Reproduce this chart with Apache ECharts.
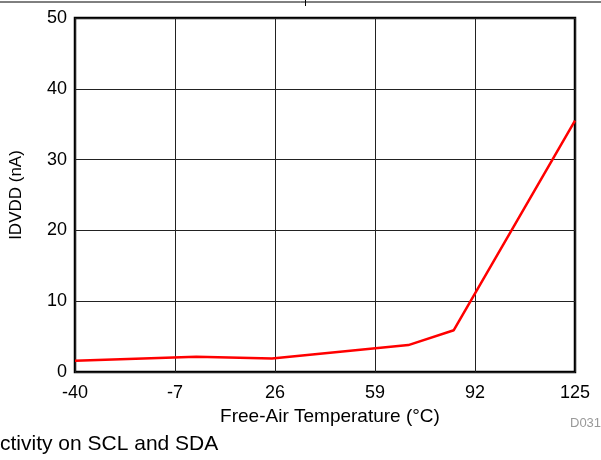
<!DOCTYPE html>
<html>
<head>
<meta charset="utf-8">
<script src="https://cdn.jsdelivr.net/npm/echarts@6/dist/echarts.min.js"></script>
<style>
html,body{margin:0;padding:0;background:#fff;}
#c{width:601px;height:460px;}
</style>
</head>
<body>
<div id="c"></div>
<script>
var temperatures = [-40, 0, 25, 70, 85, 125];
var currentNA = [1.6, 2.15, 1.9, 3.8, 5.9, 35.5];
var xTicks = [-40, -7, 26, 59, 92, 125];
var yTicks = [0, 10, 20, 30, 40, 50];

var chart = echarts.init(document.getElementById('c'), null, {renderer: 'canvas'});
var font = '"Liberation Sans", Arial, sans-serif';
chart.setOption({
  animation: false,
  backgroundColor: '#fff',
  grid: {left: 74, right: 26, top: 18, bottom: 88, show: true, borderColor: '#000', borderWidth: 2.5, backgroundColor: 'transparent'},
  xAxis: {
    type: 'value', min: xTicks[0], max: xTicks[xTicks.length - 1], interval: 33,
    name: 'Free-Air Temperature (\u00B0C)', nameLocation: 'middle', nameGap: 34,
    nameTextStyle: {fontFamily: font, fontSize: 19, color: '#000', padding: [0, 0, 0, 10]},
    axisLine: {show: false}, axisTick: {show: false},
    axisLabel: {fontFamily: font, fontSize: 18, color: '#000', margin: 12},
    splitLine: {show: true, lineStyle: {color: '#222', width: 1}}
  },
  yAxis: {
    type: 'value', min: yTicks[0], max: yTicks[yTicks.length - 1], interval: 10,
    name: 'IDVDD (nA)', nameLocation: 'middle', nameGap: 50,
    nameTextStyle: {fontFamily: font, fontSize: 17, color: '#000'},
    axisLine: {show: false}, axisTick: {show: false},
    axisLabel: {fontFamily: font, fontSize: 18, color: '#000', margin: 8},
    splitLine: {show: true, lineStyle: {color: '#222', width: 1}}
  },
  series: [{
    type: 'line',
    data: temperatures.map(function (t, i) { return [t, currentNA[i]]; }),
    showSymbol: false, symbol: 'none',
    lineStyle: {color: '#ff0000', width: 2.5},
    z: 5
  }],
  graphic: [
    {type: 'line', shape: {x1: 0, y1: 2, x2: 601, y2: 2}, style: {stroke: '#000', lineWidth: 1}},
    {type: 'line', shape: {x1: 305.5, y1: 0, x2: 305.5, y2: 6}, style: {stroke: '#000', lineWidth: 1}},
    {type: 'text', left: 570, top: 417, style: {text: 'D031', font: '13px "Liberation Sans", Arial, sans-serif', fill: '#999'}},
    {type: 'text', left: 0, top: 434, style: {text: 'ctivity on SCL and SDA', font: '21px "Liberation Sans", Arial, sans-serif', fill: '#000'}}
  ]
});
</script>
</body>
</html>
